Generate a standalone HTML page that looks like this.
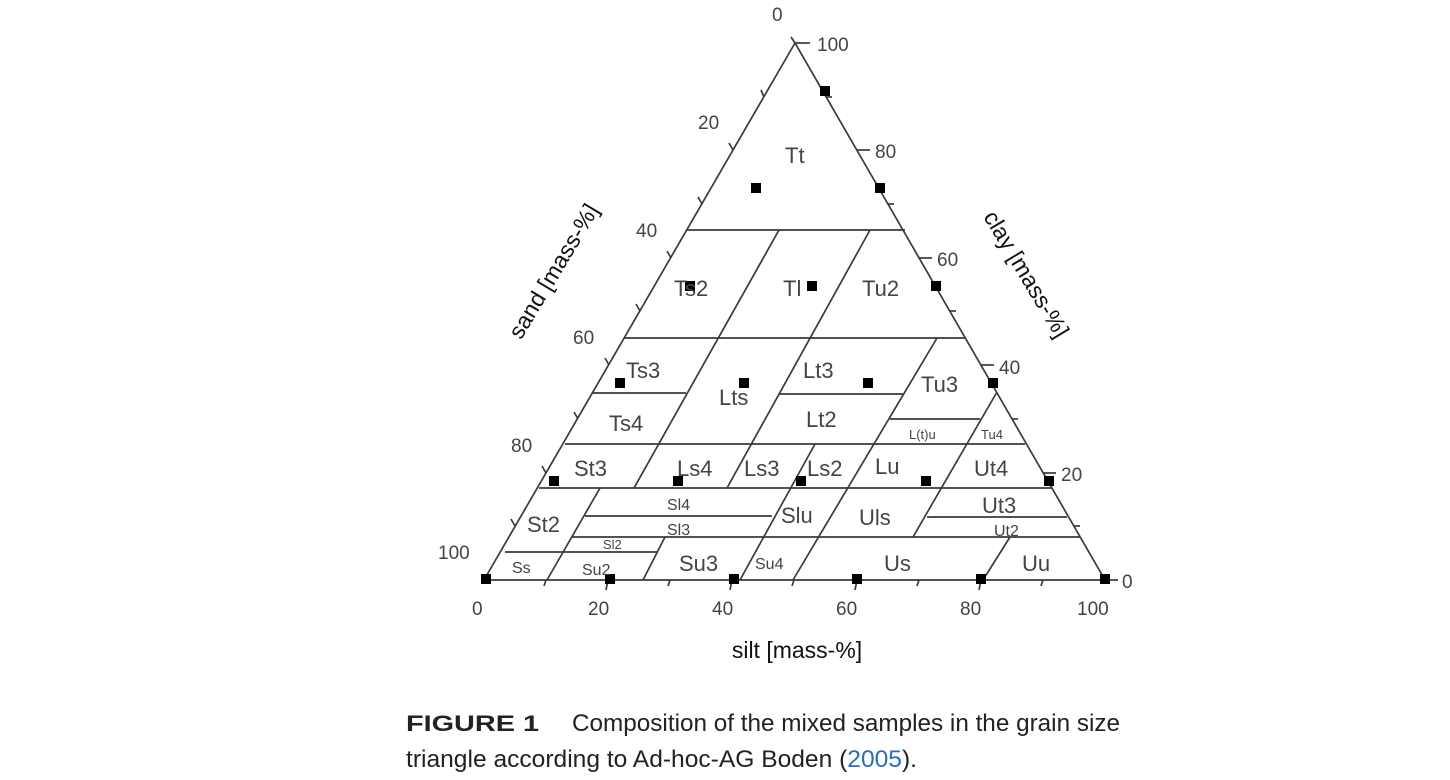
<!DOCTYPE html>
<html><head><meta charset="utf-8"><style>
html,body{margin:0;padding:0;background:#fff;}
svg{display:block}
</style></head><body>
<svg width="1450" height="780" viewBox="0 0 1450 780" xmlns="http://www.w3.org/2000/svg" font-family="Liberation Sans, Arial, sans-serif">
<g stroke="#3a3a3a" stroke-width="1.7" fill="none">
<polygon points="795,43 484,580 1105,580"/>
<line x1="686" y1="230" x2="905" y2="230"/>
<line x1="624" y1="338" x2="966" y2="338"/>
<line x1="592" y1="393" x2="686" y2="393"/>
<line x1="779" y1="394" x2="903" y2="394"/>
<line x1="890" y1="419" x2="980" y2="419"/>
<line x1="565" y1="444" x2="1025" y2="444"/>
<line x1="539" y1="488" x2="1052" y2="488"/>
<line x1="585" y1="516" x2="772" y2="516"/>
<line x1="927" y1="517" x2="1067" y2="517"/>
<line x1="572" y1="537" x2="1080" y2="537"/>
<line x1="505" y1="552" x2="657" y2="552"/>
<line x1="779" y1="230" x2="634" y2="488"/>
<line x1="870" y1="230" x2="727" y2="488"/>
<line x1="937" y1="338" x2="793" y2="580"/>
<line x1="815" y1="444" x2="740" y2="580"/>
<line x1="997" y1="392" x2="913" y2="537"/>
<line x1="600" y1="488" x2="547" y2="580"/>
<line x1="665" y1="537" x2="643" y2="580"/>
<line x1="1010" y1="537" x2="983" y2="580"/>
<line x1="764" y1="97" x2="761" y2="90"/>
<line x1="733" y1="150" x2="729" y2="143"/>
<line x1="702" y1="204" x2="698" y2="197"/>
<line x1="671" y1="258" x2="667" y2="251"/>
<line x1="640" y1="311" x2="636" y2="304"/>
<line x1="609" y1="365" x2="605" y2="358"/>
<line x1="578" y1="419" x2="574" y2="412"/>
<line x1="546" y1="473" x2="542" y2="466"/>
<line x1="515" y1="526" x2="511" y2="519"/>
<line x1="795" y1="43" x2="791" y2="37"/>
<line x1="795" y1="43" x2="810" y2="43"/>
<line x1="826" y1="97" x2="832" y2="97"/>
<line x1="857" y1="150" x2="870" y2="150"/>
<line x1="888" y1="204" x2="894" y2="204"/>
<line x1="919" y1="258" x2="932" y2="258"/>
<line x1="950" y1="311" x2="956" y2="311"/>
<line x1="981" y1="365" x2="994" y2="365"/>
<line x1="1012" y1="419" x2="1018" y2="419"/>
<line x1="1043" y1="473" x2="1056" y2="473"/>
<line x1="1074" y1="526" x2="1080" y2="526"/>
<line x1="1105" y1="580" x2="1118" y2="580"/>
<line x1="546" y1="580" x2="544" y2="586"/>
<line x1="608" y1="580" x2="606" y2="590"/>
<line x1="670" y1="580" x2="668" y2="586"/>
<line x1="732" y1="580" x2="730" y2="590"/>
<line x1="794" y1="580" x2="792" y2="586"/>
<line x1="857" y1="580" x2="855" y2="590"/>
<line x1="919" y1="580" x2="917" y2="586"/>
<line x1="981" y1="580" x2="979" y2="590"/>
<line x1="1043" y1="580" x2="1041" y2="586"/>
</g>
<g fill="#000">
<rect x="820" y="86" width="10" height="10"/><rect x="875" y="183" width="10" height="10"/><rect x="751" y="183" width="10" height="10"/>
<rect x="685" y="281" width="10" height="10"/><rect x="807" y="281" width="10" height="10"/><rect x="931" y="281" width="10" height="10"/>
<rect x="615" y="378" width="10" height="10"/><rect x="739" y="378" width="10" height="10"/><rect x="863" y="378" width="10" height="10"/><rect x="988" y="378" width="10" height="10"/>
<rect x="549" y="476" width="10" height="10"/><rect x="673" y="476" width="10" height="10"/><rect x="796" y="476" width="10" height="10"/><rect x="921" y="476" width="10" height="10"/><rect x="1044" y="476" width="10" height="10"/>
<rect x="481" y="574" width="10" height="10"/><rect x="605" y="574" width="10" height="10"/><rect x="729" y="574" width="10" height="10"/><rect x="852" y="574" width="10" height="10"/><rect x="976" y="574" width="10" height="10"/><rect x="1100" y="574" width="10" height="10"/>
</g>
<g fill="#444" font-size="22">
<text x="785" y="163">Tt</text>
<text x="674" y="296">Ts2</text>
<text x="783" y="296">Tl</text>
<text x="862" y="296">Tu2</text>
<text x="626" y="378">Ts3</text>
<text x="719" y="405">Lts</text>
<text x="803" y="378">Lt3</text>
<text x="921" y="392">Tu3</text>
<text x="609" y="431">Ts4</text>
<text x="806" y="427">Lt2</text>
<text x="574" y="476">St3</text>
<text x="677" y="476">Ls4</text>
<text x="744" y="476">Ls3</text>
<text x="807" y="476">Ls2</text>
<text x="875" y="474">Lu</text>
<text x="974" y="476">Ut4</text>
<text x="527" y="532">St2</text>
<text x="781" y="523">Slu</text>
<text x="859" y="525">Uls</text>
<text x="982" y="513">Ut3</text>
<text x="679" y="571">Su3</text>
<text x="884" y="571">Us</text>
<text x="1022" y="571">Uu</text>
</g>
<g fill="#444" font-size="16">
<text x="667" y="510">Sl4</text>
<text x="667" y="535">Sl3</text>
<text x="512" y="573">Ss</text>
<text x="582" y="575">Su2</text>
<text x="755" y="569">Su4</text>
<text x="994" y="536">Ut2</text>
</g>
<g fill="#444" font-size="13">
<text x="909" y="439">L(t)u</text>
<text x="981" y="439">Tu4</text>
<text x="603" y="549">Sl2</text>
</g>
<g fill="#444" font-size="19">
<text x="772" y="21">0</text>
<text x="817" y="51">100</text>
<text x="698" y="129">20</text>
<text x="636" y="237">40</text>
<text x="573" y="344">60</text>
<text x="511" y="452">80</text>
<text x="438" y="559">100</text>
<text x="875" y="158">80</text>
<text x="937" y="266">60</text>
<text x="999" y="374">40</text>
<text x="1061" y="481">20</text>
<text x="1122" y="588">0</text>
<text x="472" y="615">0</text>
<text x="588" y="615">20</text>
<text x="712" y="615">40</text>
<text x="836" y="615">60</text>
<text x="960" y="615">80</text>
<text x="1077" y="615">100</text>
</g>
<text x="797" y="658" font-size="23" fill="#111" text-anchor="middle">silt [mass-%]</text>
<text transform="translate(555,272) rotate(-59)" font-size="23" fill="#111" text-anchor="middle" dominant-baseline="middle">sand [mass-%]</text>
<text transform="translate(1025,275) rotate(59)" font-size="23" fill="#111" text-anchor="middle" dominant-baseline="middle">clay [mass-%]</text>
<text x="406" y="731" font-size="22" font-weight="bold" fill="#222" textLength="133" lengthAdjust="spacingAndGlyphs">FIGURE 1</text>
<text x="572" y="731" font-size="24" fill="#222" textLength="548" lengthAdjust="spacingAndGlyphs">Composition of the mixed samples in the grain size</text>
<text x="406" y="767" font-size="24" fill="#222" textLength="511" lengthAdjust="spacingAndGlyphs">triangle according to Ad-hoc-AG Boden (<tspan fill="#2a6ebb">2005</tspan>).</text>
</svg>
</body></html>
